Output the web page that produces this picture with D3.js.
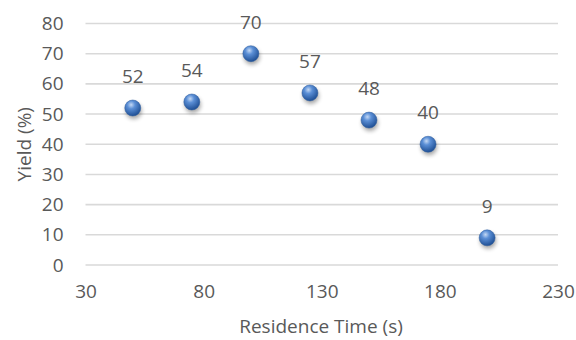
<!DOCTYPE html>
<html><head><meta charset="utf-8">
<script src="https://cdn.jsdelivr.net/npm/d3@7"></script>
<style>body{margin:0;background:#fff}text{font-family:"Open Sans",sans-serif;fill:#595959}</style>
</head><body><svg id="c" width="576" height="340"></svg>
<script>
const xValues = [50, 75, 100, 125, 150, 175, 200];
const yValues = [52, 54, 70, 57, 48, 40, 9];
const xTicks = [30, 80, 130, 180, 230];
const yTicks = [0, 10, 20, 30, 40, 50, 60, 70, 80];
const xTitle = "Residence Time (s)";
const yTitle = "Yield (%)";

const FONT = "'Open Sans',sans-serif";
const FS = 19;
const svg = d3.select("#c");
const x = d3.scaleLinear().domain([30, 230]).range([85.5, 558]);
const y = d3.scaleLinear().domain([0, 80]).range([265, 23.5]);

const defs = svg.append("defs");
const g = defs.append("radialGradient").attr("id","ball").attr("cx","40%").attr("cy","30%").attr("r","70%");
g.append("stop").attr("offset","0%").attr("stop-color","#c4d8f4");
g.append("stop").attr("offset","35%").attr("stop-color","#5b8fd6");
g.append("stop").attr("offset","100%").attr("stop-color","#1f4f94");
const f = defs.append("filter").attr("id","sh").attr("x","-50%").attr("y","-50%").attr("width","200%").attr("height","200%");
f.append("feGaussianBlur").attr("stdDeviation","2");

svg.append("g").selectAll("line").data(yTicks).join("line")
  .attr("x1", x(30)).attr("x2", x(230)).attr("y1", d=>y(d)).attr("y2", d=>y(d))
  .attr("stroke","#d9d9d9").attr("stroke-width",1.6);

const yAxis = svg.append("g").attr("transform",`translate(${x(30)},0)`)
  .call(d3.axisLeft(y).tickValues(yTicks).tickSize(0).tickPadding(22));
yAxis.select(".domain").remove();
yAxis.selectAll("text").attr("font-size",FS).style("font-family",FONT).attr("fill","#595959");

const xAxis = svg.append("g").attr("transform",`translate(0,${y(0)})`)
  .call(d3.axisBottom(x).tickValues(xTicks).tickSize(0).tickPadding(20));
xAxis.select(".domain").remove();
xAxis.selectAll("text").attr("font-size",FS).style("font-family",FONT).attr("fill","#595959");

svg.append("text").attr("x", 321).attr("y", 333).attr("text-anchor","middle")
  .attr("font-size",FS).text(xTitle);
svg.append("text").attr("transform",`translate(31,${(y(0)+y(80))/2}) rotate(-90)`).attr("text-anchor","middle")
  .attr("font-size",FS).text(yTitle);

const pts = xValues.map((v,i)=>({x:v,y:yValues[i]}));
svg.append("g").selectAll("circle").data(pts).join("circle")
  .attr("cx",d=>x(d.x)+1).attr("cy",d=>y(d.y)+3).attr("r",8).attr("fill","#000").attr("opacity",0.35).attr("filter","url(#sh)");
svg.append("g").selectAll("circle").data(pts).join("circle")
  .attr("cx",d=>x(d.x)).attr("cy",d=>y(d.y)).attr("r",8).attr("fill","url(#ball)").attr("stroke","#2c5c9e").attr("stroke-width",0.5);
svg.append("g").selectAll("text").data(pts).join("text")
  .attr("x",d=>x(d.x)).attr("y",d=>y(d.y)-25).attr("text-anchor","middle").attr("font-size",FS).text(d=>d.y);
</script></body></html>
